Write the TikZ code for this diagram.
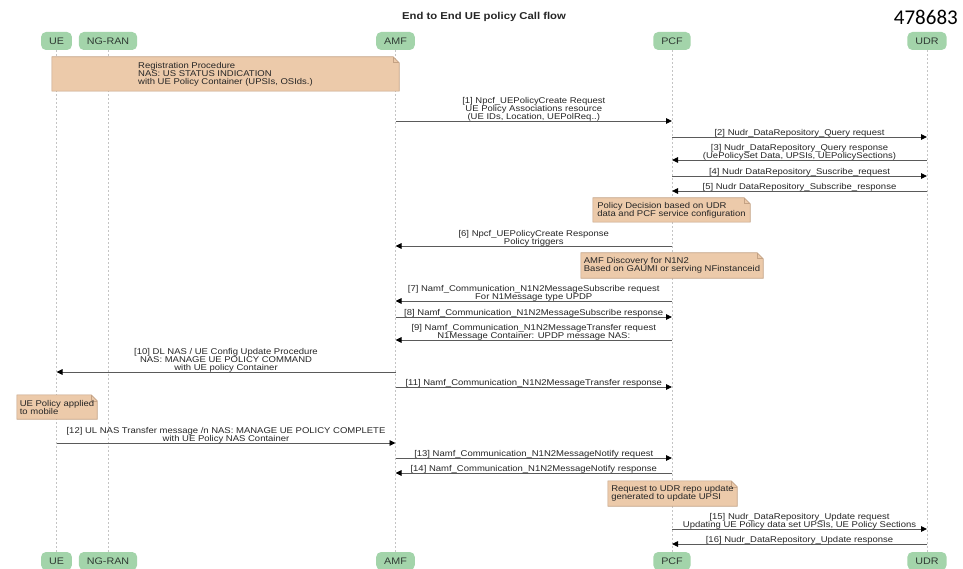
\documentclass[tikz,border=0pt]{standalone}
\usepackage{fontspec}
\newfontfamily\lblfont[FakeStretch=1.13]{Liberation Sans}
\newfontfamily\numfont{Carlito}
\usetikzlibrary{arrows.meta,calc,backgrounds}
\definecolor{actgreen}{HTML}{A3D4AA}
\definecolor{acttext}{HTML}{2F3A33}
\definecolor{notefill}{HTML}{ECCAAA}
\definecolor{noteedge}{HTML}{C4A284}
\definecolor{lifegray}{HTML}{C4C4C4}
\definecolor{arrowgray}{HTML}{5A5A5A}
\definecolor{txt}{HTML}{262626}
\tikzset{
  actor/.style={rounded corners=5pt, fill=actgreen, text=acttext,
    font=\lblfont\fontsize{9.5}{10}\selectfont, inner xsep=8pt, inner ysep=0pt, minimum height=18pt},
  lifeline/.style={draw=lifegray, line width=0.7pt, dash pattern=on 2pt off 2pt},
  msgarrow/.style={draw=arrowgray, line width=0.9pt, -{Triangle[length=6pt,width=5.5pt,color=black]}},
  msglabel/.style={font=\lblfont\fontsize{8.4}{8}\selectfont, text=txt, align=center, inner sep=0pt, anchor=south},
  notetext/.style={font=\lblfont\fontsize{8.4}{8}\selectfont, text=txt, align=left, inner sep=0pt},
}
% message: #1 label name, #2 from, #3 to, #4 y, #5 text
\newcommand\seqmsg[5]{%
  \draw[msgarrow] (#2 |- 0,#4) -- (#3 |- 0,#4);
  \node[msglabel] (#1) at ($(#2 |- 0,#4)!0.5!(#3 |- 0,#4) + (0,0.9)$) {#5\strut};
}
\newcommand\notebg[1]{%
  \filldraw[fill=notefill, draw=noteedge, line width=0.6pt] (#1.south west) -- (#1.north west)
    -- ([xshift=-6pt]#1.north east) -- ([yshift=-6pt]#1.north east) -- (#1.south east) -- cycle;
  \draw[noteedge, line width=0.6pt] ([xshift=-6pt]#1.north east) |- ([yshift=-6pt]#1.north east);
}
\begin{document}
\begin{tikzpicture}[x=1pt,y=-1pt]
\useasboundingbox (0,0) rectangle (963,569);
\begin{pgfonlayer}{background}
  \fill[white] (0,0) rectangle (963,569);
\end{pgfonlayer}

% title and number
\node[font=\lblfont\bfseries\fontsize{10}{12}\selectfont, text=txt, anchor=base, inner sep=0pt] (title) at (484,19.5) {End to End UE policy Call flow};
\node[font=\numfont\fontsize{21}{24}\selectfont, text=black, anchor=base east, inner sep=0pt] (num) at (958,25) {478683};

% actors
\node[actor] (ue) at (56.5,41) {UE};
\node[actor] (ngran) at (108,41) {NG-RAN};
\node[actor] (amf) at (395.5,41) {AMF};
\node[actor] (pcf) at (672,41) {PCF};
\node[actor] (udr) at (927,41) {UDR};
\node[actor] (ue2) at (56.5,561) {UE};
\node[actor] (ngran2) at (108,561) {NG-RAN};
\node[actor] (amf2) at (395.5,561) {AMF};
\node[actor] (pcf2) at (672,561) {PCF};
\node[actor] (udr2) at (927,561) {UDR};

% notes (text)
\node[notetext, minimum width=347pt, minimum height=34pt] (reg) at (225.5,74)
  {Registration Procedure\\NAS: US STATUS INDICATION\\with UE Policy Container (UPSIs, OSIds.)};
\node[notetext, minimum width=157pt, minimum height=24pt] (pol) at (671.5,210)
  {Policy Decision based on UDR\\data and PCF service configuration};
\node[notetext, minimum width=182pt, minimum height=25pt] (disc) at (672,265.5)
  {AMF Discovery for N1N2\\Based on GAUMI or serving NFinstanceid};
\node[notetext, minimum width=80pt, minimum height=24pt] (uepol) at (57,407)
  {UE Policy applied\\to mobile};
\node[notetext, minimum width=129pt, minimum height=25pt] (upd) at (672.5,493.5)
  {Request to UDR repo update\\generated to update UPSI};

\begin{pgfonlayer}{background}
  \draw[lifeline] (ue.south) -- (ue2.north);
  \draw[lifeline] (ngran.south) -- (ngran2.north);
  \draw[lifeline] (amf.south) -- (amf2.north);
  \draw[lifeline] (pcf.south) -- (pcf2.north);
  \draw[lifeline] (udr.south) -- (udr2.north);
  \notebg{reg}
  \notebg{pol}
  \notebg{disc}
  \notebg{uepol}
  \notebg{upd}
\end{pgfonlayer}

% messages
\seqmsg{m1}{amf}{pcf}{121}{[1] Npcf\_UEPolicyCreate Request\\UE Policy Associations resource\\(UE IDs, Location, UEPolReq..)}
\seqmsg{m2}{pcf}{udr}{137}{[2] Nudr\_DataRepository\_Query request}
\seqmsg{m3}{udr}{pcf}{160}{[3] Nudr\_DataRepository\_Query response\\(UePolicySet Data, UPSIs, UEPolicySections)}
\seqmsg{m4}{pcf}{udr}{176}{[4] Nudr DataRepository\_Suscribe\_request}
\seqmsg{m5}{udr}{pcf}{191}{[5] Nudr DataRepository\_Subscribe\_response}
\seqmsg{m6}{pcf}{amf}{246}{[6] Npcf\_UEPolicyCreate Response\\Policy triggers}
\seqmsg{m7}{pcf}{amf}{301}{[7] Namf\_Communication\_N1N2MessageSubscribe request\\For N1Message type UPDP}
\seqmsg{m8}{amf}{pcf}{317}{[8] Namf\_Communication\_N1N2MessageSubscribe response}
\seqmsg{m9}{pcf}{amf}{340}{[9] Namf\_Communication\_N1N2MessageTransfer request\\N1Message Container: UPDP message NAS:}
\seqmsg{m10}{amf}{ue}{372}{[10] DL NAS / UE Config Update Procedure\\NAS: MANAGE UE POLICY COMMAND\\with UE policy Container}
\seqmsg{m11}{amf}{pcf}{387}{[11] Namf\_Communication\_N1N2MessageTransfer response}
\seqmsg{m12}{ue}{amf}{443}{[12] UL NAS Transfer message /n NAS: MANAGE UE POLICY COMPLETE\\with UE Policy NAS Container}
\seqmsg{m13}{amf}{pcf}{458}{[13] Namf\_Communication\_N1N2MessageNotify request}
\seqmsg{m14}{pcf}{amf}{473}{[14] Namf\_Communication\_N1N2MessageNotify response}
\seqmsg{m15}{pcf}{udr}{529}{[15] Nudr\_DataRepository\_Update request\\Updating UE Policy data set  UPSIs, UE Policy Sections}
\seqmsg{m16}{udr}{pcf}{544}{[16] Nudr\_DataRepository\_Update response}
\end{tikzpicture}
\end{document}
